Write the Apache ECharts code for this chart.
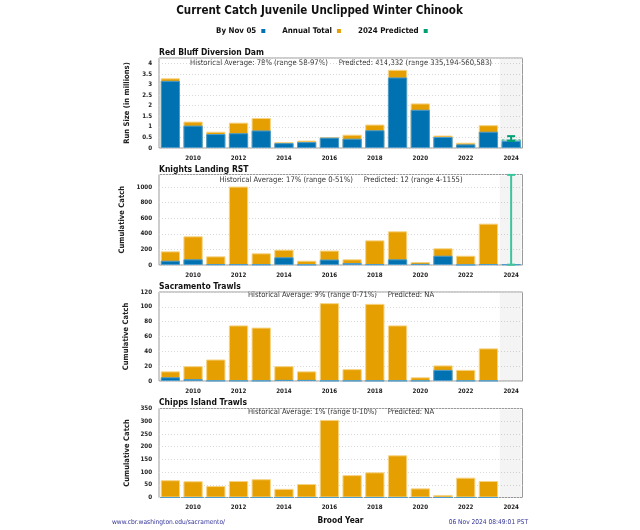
<!DOCTYPE html>
<html><head><meta charset="utf-8">
<script src="https://cdn.jsdelivr.net/npm/echarts@6/dist/echarts.min.js"></script>
<style>html,body{margin:0;padding:0;background:#fff}#c{width:640px;height:530px}</style>
</head><body><div id="c"></div>
<script>
const years = ['2009','2010','2011','2012','2013','2014','2015','2016','2017','2018','2019','2020','2021','2022','2023','2024'];

const rbddTotal = [3.30,1.25,0.77,1.20,1.42,0.28,0.35,0.52,0.63,1.11,3.70,2.11,0.59,0.25,1.08,null];
const rbddNov   = [3.18,1.06,0.66,0.70,0.83,0.23,0.28,0.49,0.44,0.84,3.34,1.81,0.52,0.17,0.77,0.34];
const rbddPred  = [0.414, 0.335, 0.561];

const klTotal = [175,368,111,1005,150,196,55,185,73,316,432,38,214,119,530,null];
const klNov   = [55,73,10,10,8,99,5,70,25,10,73,15,119,3,12,10];
const klPred  = [12, 4, 1155];

const stTotal = [13,20,29,75,72,20,13,105,16,104,75,5,21,15,44,null];
const stNov   = [5,2.5,0.5,0.5,0.5,1.5,1.5,0.5,0.5,0.5,0.5,0.5,15,0.5,0.5,null];

const ciTotal = [68,64,45,65,72,34,53,305,88,99,166,36,10,78,65,null];
const ciNov   = [0,0,0,0,0,0,0,0,0,0,0,0,0,0,0,null];

const panelTitles = ['Red Bluff Diversion Dam','Knights Landing RST','Sacramento Trawls','Chipps Island Trawls'];
const panelNotes = [
  'Historical Average: 78% (range 58-97%)     Predicted: 414,332 (range 335,194-560,583)',
  'Historical Average: 17% (range 0-51%)     Predicted: 12 (range 4-1155)',
  'Historical Average: 9% (range 0-71%)     Predicted: NA',
  'Historical Average: 1% (range 0-10%)     Predicted: NA'
];
const yNames = ['Run Size (in millions)','Cumulative Catch','Cumulative Catch','Cumulative Catch'];
const yMax = [4.26, 1160, 120, 350];
const yInt = [0.5, 200, 20, 50];

const BLUE='#0072B2', ORANGE='#E69F00', GREEN='#009E73';
const FONT='DejaVu Sans Condensed';
const tops = [58, 174.5, 292, 408.5];
const bottoms = [148, 265, 381, 497.5];
const nameGaps = [28, 33, 29, 28];
const L=159, R=522.5;

const grids = tops.map((t,i)=>({left:L, width:R-L, top:t, height:bottoms[i]-t, show:true, borderColor:'#9a9a9a', borderWidth:1, backgroundColor:'transparent'}));

const xAxes = tops.map((t,i)=>({
  type:'category', gridIndex:i, data:years,
  axisLine:{show:false}, axisTick:{show:false},
  axisLabel:{interval:(idx)=>idx%2===1, fontFamily:FONT, fontSize:6.2, fontWeight:'bold', color:'#222', margin:7}
}));
const yAxes = tops.map((t,i)=>({
  type:'value', gridIndex:i, min:0, max:yMax[i], interval:yInt[i],
  name:yNames[i], nameLocation:'middle', nameRotate:90, nameGap:nameGaps[i], nameMoveOverlap:false,
  nameTextStyle:{fontFamily:FONT, fontSize:7.6, fontWeight:'bold', color:'#222'},
  axisLine:{show:false}, axisTick:{show:false},
  axisLabel:{showMaxLabel: i===2 || i===3, formatter:(v)=>String(v), fontFamily:FONT, fontSize:6.2, fontWeight:'bold', color:'#222', margin:7},
  splitLine:{show:true, lineStyle:{color:'#d9d9d9', type:[1,2], width:1}}
}));

const totals=[rbddTotal,klTotal,stTotal,ciTotal];
const novs=[rbddNov,klNov,stNov,ciNov];
const preds=[rbddPred,klPred,null,null];

const series=[];
for(let i=0;i<4;i++){
  series.push({
    type:'custom', xAxisIndex:i, yAxisIndex:i, silent:true, z:1,
    data:[[15]],
    renderItem:(params,api)=>{
      const x=api.coord([api.value(0),0])[0];
      const w=api.size([1,0])[0];
      const cs=params.coordSys;
      return {type:'rect', shape:{x:x-w/2, y:cs.y+1, width:w-1, height:cs.height-1}, style:{fill:'rgba(0,0,0,0.045)'}};
    }
  });
  series.push({
    name:'Annual Total', type:'bar', xAxisIndex:i, yAxisIndex:i, z:2,
    data:totals[i], barCategoryGap:'15%', barGap:'-100%',
    itemStyle:{color:ORANGE, borderColor:'#f6d384', borderWidth:1}
  });
  if(preds[i]){
    const pd = years.map((y,k)=>k===15?preds[i][0]:null);
    series.push({
      name:'2024 Predicted', type:'bar', xAxisIndex:i, yAxisIndex:i, z:2,
      data:pd, barCategoryGap:'15%', barGap:'-100%',
      itemStyle:{color:'rgba(0,158,115,0.3)', borderColor:'rgba(0,158,115,0.55)', borderWidth:1, borderType:'dashed'}
    });
  }
  series.push({
    name:'By Nov 05', type:'bar', xAxisIndex:i, yAxisIndex:i, z:3,
    data:novs[i], barCategoryGap:'15%', barGap:'-100%',
    itemStyle:{color:BLUE, borderColor:'#4d9ccc', borderWidth:1}
  });
  if(preds[i]){
    series.push({
      name:'2024 Predicted', type:'custom', xAxisIndex:i, yAxisIndex:i, z:4, silent:true,
      data:[[15, preds[i][1], preds[i][2]]],
      encode:{x:0, y:[1,2]},
      renderItem:(params,api)=>{
        const lo=api.coord([api.value(0),api.value(1)]);
        const hi=api.coord([api.value(0),api.value(2)]);
        const cap=4;
        const st={stroke:i===1?'#3cc49c':GREEN, lineWidth:2};
        return {type:'group', children:[
          {type:'line', shape:{x1:lo[0],y1:lo[1],x2:hi[0],y2:hi[1]}, style:st},
          {type:'line', shape:{x1:hi[0]-cap,y1:hi[1],x2:hi[0]+cap,y2:hi[1]}, style:st},
          {type:'line', shape:{x1:lo[0]-cap,y1:lo[1],x2:lo[0]+cap,y2:lo[1]}, style:st}
        ]};
      }
    });
  }
}

const F='"DejaVu Sans Condensed"';
const graphic=[
  {type:'text', x:319.5, y:11, style:{text:'Current Catch Juvenile Unclipped Winter Chinook', font:'bold 11.5px '+F, fill:'#111', align:'center', verticalAlign:'middle'}},
  {type:'text', x:340.5, y:521, style:{text:'Brood Year', font:'bold 8.3px '+F, fill:'#111', align:'center', verticalAlign:'middle'}},
  {type:'text', x:112, y:522, style:{text:'www.cbr.washington.edu/sacramento/', font:'6.6px '+F, fill:'#333399', align:'left', verticalAlign:'middle'}},
  {type:'text', x:528, y:522, style:{text:'06 Nov 2024 08:49:01 PST', font:'6.6px '+F, fill:'#333399', align:'right', verticalAlign:'middle'}}
];
const titleY=[52.5,170,286.5,402.5];
const noteY=[63,180,295,411.8];
for(let i=0;i<4;i++){
  graphic.push({type:'text', x:159, y:titleY[i], style:{text:panelTitles[i], font:'bold 8.5px '+F, fill:'#111', align:'left', verticalAlign:'middle'}});
  graphic.push({type:'text', x:341, y:noteY[i], style:{text:panelNotes[i], font:'7.6px '+F, fill:'#333', align:'center', verticalAlign:'middle'}});
}

const chart=echarts.init(document.getElementById('c'),null,{renderer:'canvas'});
chart.setOption({
  animation:false,
  backgroundColor:'#fff',
  textStyle:{fontFamily:FONT},
  legend:{
    top:22, left:211, align:'right', icon:'rect', itemWidth:4, itemHeight:4, itemGap:17,
    data:[{name:'By Nov 05',itemStyle:{color:BLUE,borderWidth:0}},{name:'Annual Total',itemStyle:{color:ORANGE,borderWidth:0}},{name:'2024 Predicted',itemStyle:{color:GREEN,borderWidth:0}}],
    textStyle:{fontFamily:FONT, fontSize:7.9, fontWeight:'bold', color:'#111'},
    selectedMode:false
  },
  grid:grids, xAxis:xAxes, yAxis:yAxes, series:series, graphic:graphic
});
</script></body></html>
